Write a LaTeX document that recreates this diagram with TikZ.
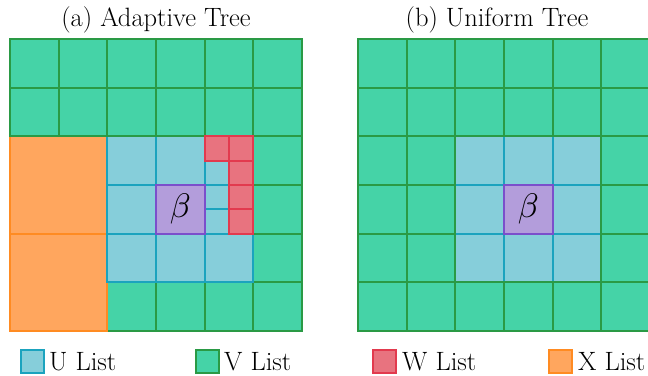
\documentclass[tikz,border=0pt]{standalone}
\definecolor{vfill}{HTML}{45D3A7}
\definecolor{vline}{HTML}{2A9A45}
\definecolor{ufill}{HTML}{86CEDA}
\definecolor{uline}{HTML}{1BA3BE}
\definecolor{wfill}{HTML}{E8737F}
\definecolor{wline}{HTML}{E23A4E}
\definecolor{xfill}{HTML}{FFA65E}
\definecolor{xline}{HTML}{FF8B22}
\definecolor{pfill}{HTML}{B39DDB}
\definecolor{pline}{HTML}{7B4FCB}
\begin{document}
\begin{tikzpicture}[x=1pt,y=-1pt,
  cell/.style={line width=2pt},
  vcell/.style={cell,fill=vfill,draw=vline},
  ucell/.style={cell,fill=ufill,draw=uline},
  wcell/.style={cell,fill=wfill,draw=wline},
  xcell/.style={cell,fill=xfill,draw=xline},
  pcell/.style={cell,fill=pfill,draw=pline},
  lbl/.style={font=\fontsize{26.5}{31}\selectfont,inner sep=0pt},
  betalbl/.style={inner sep=0pt},
  keybox/.style={cell,minimum width=23pt,minimum height=23pt,inner sep=0pt}]
\useasboundingbox (0,0) rectangle (648,375);
\clip (0,0) rectangle (648,375);
\def\s{48.67}
\def\h{24.335}
\newcommand{\betatxt}{\scalebox{3.4}{$\beta$}}
% ---------- (a) adaptive tree ----------
\begin{scope}[shift={(10,39)}]
  % lower green cells
  \foreach \j in {2,3,4} \draw[vcell] (5*\s,\j*\s) rectangle ++(\s,\s);
  \foreach \i in {2,...,5} \draw[vcell] (\i*\s,5*\s) rectangle ++(\s,\s);
  % X list
  \draw[xcell] (0,2*\s) rectangle ++(2*\s,2*\s);
  \draw[xcell] (0,4*\s) rectangle ++(2*\s,2*\s);
  % U list
  \foreach \i/\j in {2/2,3/2,2/3,2/4,3/4,4/4} \draw[ucell] (\i*\s,\j*\s) rectangle ++(\s,\s);
  \draw[ucell] (4*\s,2*\s+\h) rectangle ++(\h,\h);
  \draw[ucell] (4*\s,3*\s) rectangle ++(\h,\h);
  \draw[ucell] (4*\s,3*\s+\h) rectangle ++(\h,\h);
  % top green rows
  \foreach \i in {0,...,5} \foreach \j in {0,1} \draw[vcell] (\i*\s,\j*\s) rectangle ++(\s,\s);
  % W list
  \draw[wcell] (4*\s,2*\s) rectangle ++(\h,\h);
  \draw[wcell] (4*\s+\h,2*\s) rectangle ++(\h,\h);
  \draw[wcell] (4*\s+\h,2*\s+\h) rectangle ++(\h,\h);
  \draw[wcell] (4*\s+\h,3*\s) rectangle ++(\h,\h);
  \draw[wcell] (4*\s+\h,3*\s+\h) rectangle ++(\h,\h);
  % beta
  \draw[pcell] (3*\s,3*\s) rectangle ++(\s,\s);
  \node[betalbl] (betaA) at (3.5*\s,3.5*\s) {\betatxt};
\end{scope}
\node[lbl,anchor=base] (titleA) at (156,26) {(a) Adaptive Tree};
% ---------- (b) uniform tree ----------
\begin{scope}[shift={(358,39)}]
  \foreach \i in {2,3,4} \foreach \j in {2,3,4} \draw[ucell] (\i*\s,\j*\s) rectangle ++(\s,\s);
  \foreach \i in {0,...,5} \foreach \j in {0,...,5} {
    \ifnum\i>1 \ifnum\i<5 \ifnum\j>1 \ifnum\j<5 \else
      \draw[vcell] (\i*\s,\j*\s) rectangle ++(\s,\s); \fi
      \else \draw[vcell] (\i*\s,\j*\s) rectangle ++(\s,\s); \fi
      \else \draw[vcell] (\i*\s,\j*\s) rectangle ++(\s,\s); \fi
    \else \draw[vcell] (\i*\s,\j*\s) rectangle ++(\s,\s); \fi
  }
  \draw[pcell] (3*\s,3*\s) rectangle ++(\s,\s);
  \node[betalbl] (betaB) at (3.5*\s,3.5*\s) {\betatxt};
\end{scope}
\node[lbl,anchor=base] (titleB) at (497,26) {(b) Uniform Tree};
% ---------- legend ----------
\node[keybox,fill=ufill,draw=uline] (ku) at (32,361) {};
\node[lbl,anchor=base west] (tu) at (49,370) {U List};
\node[keybox,fill=vfill,draw=vline] (kv) at (207,361) {};
\node[lbl,anchor=base west] (tv) at (224,370) {V List};
\node[keybox,fill=wfill,draw=wline] (kw) at (384,361) {};
\node[lbl,anchor=base west] (tw) at (402,370) {W List};
\node[keybox,fill=xfill,draw=xline] (kx) at (560,361) {};
\node[lbl,anchor=base west] (tx) at (578,370) {X List};
\end{tikzpicture}
\end{document}
